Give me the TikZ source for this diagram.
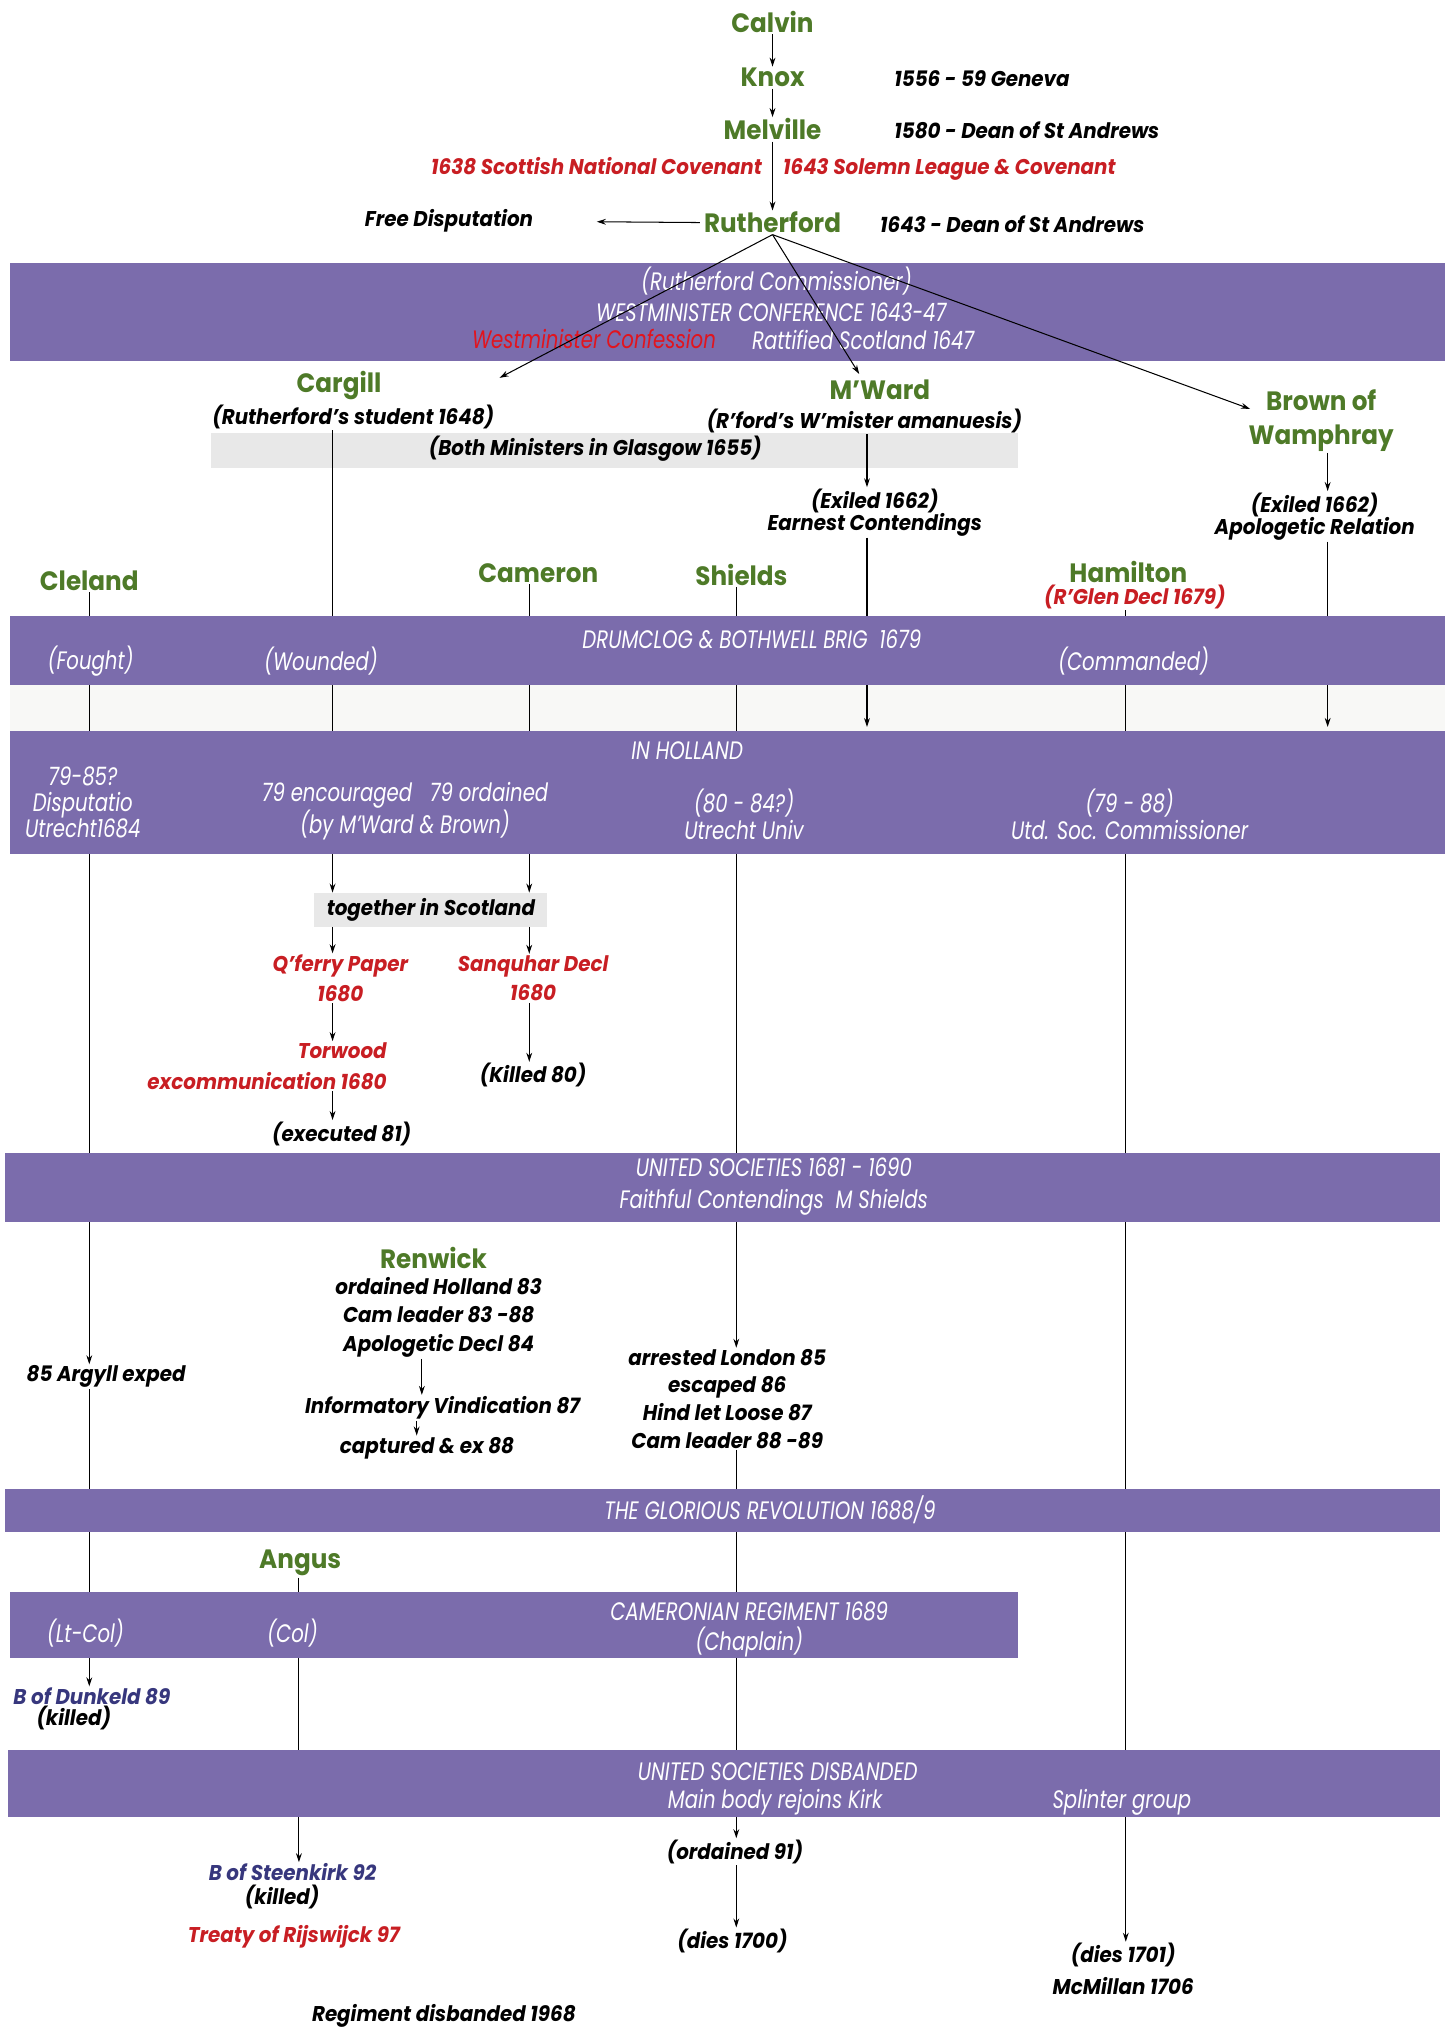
\documentclass[tikz,border=0pt]{standalone}
\usepackage{fontspec}
\setmainfont{Poppins}[FakeStretch=0.93]
\newfontfamily\bandfont{Poppins}[FakeStretch=0.78]
\usetikzlibrary{arrows.meta,calc}
\definecolor{gname}{RGB}{78,122,40}
\definecolor{rtxt}{RGB}{200,30,35}
\definecolor{rbright}{RGB}{225,20,30}
\definecolor{btxt}{RGB}{55,55,125}
\definecolor{bandc}{RGB}{123,108,172}
\definecolor{lgray}{RGB}{232,232,232}
\definecolor{strip}{RGB}{248,248,246}
\pgfdeclarelayer{bg}\pgfdeclarelayer{fg}\pgfsetlayers{bg,main,fg}
\newcommand\lbsz[2]{\fontsize{#1}{#2}\selectfont\bfseries\itshape}
\tikzset{
 nm/.style={text=gname, font=\fontsize{20.5}{26}\selectfont\bfseries, inner sep=1pt, align=center},
 lb/.style={text=black, font=\lbsz{16.5}{20}, inner sep=1pt, align=center},
 rd/.style={lb, text=rtxt},
 bl/.style={lb, text=btxt},
 wt/.style={text=white, font=\bandfont\fontsize{19.5}{22}\selectfont\itshape, inner sep=1pt, align=center},
 wr/.style={wt, text=rbright},
 bandbox/.style={fill=bandc, draw=none, inner sep=0pt},
 graybox/.style={fill=lgray, draw=none, inner sep=0pt},
 arr/.style={-{Stealth[length=7pt,width=4.5pt]}, line width=0.8pt},
 ln/.style={line width=0.8pt}
}
\begin{document}
\begin{tikzpicture}[x=1pt,y=-1pt]
\useasboundingbox (0,0) rectangle (1121,1568);
% column x coordinates
\coordinate (xcl) at (69,0);
\coordinate (xcg) at (257,0);
\coordinate (xcm) at (409,0);
\coordinate (xsh) at (569,0);
\coordinate (xmw) at (670,0);
\coordinate (xha) at (870,0);
\coordinate (xbr) at (1026,0);
\coordinate (xan) at (231,0);
\coordinate (xrw) at (326,0);
\coordinate (xrw2) at (322,0);
\coordinate (cgarr) at (386,292);
\coordinate (mwarr) at (664,289);
\coordinate (brarr) at (966,316);

% background gray boxes
\begin{pgfonlayer}{bg}
\node[graybox, minimum width=624pt, minimum height=27pt] (glas) at (475,348.5) {};
\node[graybox, minimum width=180pt, minimum height=26pt] (tog) at (333,703) {};
\node[fill=strip, inner sep=0pt, minimum width=1109pt, minimum height=36pt] (stripbox) at (562.5,547) {};
\end{pgfonlayer}

% purple bands
\begin{pgfonlayer}{fg}
\node[bandbox, minimum width=1109pt, minimum height=76pt] (west) at (562.5,241) {};
\node[bandbox, minimum width=1109pt, minimum height=53pt] (drum) at (562.5,502.5) {};
\node[bandbox, minimum width=1109pt, minimum height=95pt] (holl) at (562.5,612.5) {};
\node[bandbox, minimum width=1109pt, minimum height=53pt] (unis) at (558.5,917.5) {};
\node[bandbox, minimum width=1109pt, minimum height=33pt] (glor) at (558.5,1167.5) {};
\node[bandbox, minimum width=779pt, minimum height=51pt] (camr) at (397.5,1255.5) {};
\node[bandbox, minimum width=1107pt, minimum height=52pt] (disb) at (559.5,1378) {};
% band texts
\node[wt] (comm) at (600,217) {(Rutherford Commissioner)};
\node[wt] (wconf) at (596,241) {WESTMINISTER CONFERENCE 1643-47};
\node[wr] (wconfess) at (459,262) {Westminister Confession};
\node[wt] (ratt) at (667,263) {Rattified Scotland 1647};
\node[wt] (drumt) at (581,494) {DRUMCLOG \& BOTHWELL BRIG\ \ 1679};
\node[wt] (fought) at (70,511) {(Fought)};
\node[wt] (wounded) at (248,511) {(Wounded)};
\node[wt] (commanded) at (876,511) {(Commanded)};
\node[wt] (hollt) at (531,580) {IN HOLLAND};
\node[wt, font=\bandfont\fontsize{19.5}{20}\selectfont\itshape] (disp) at (64,620) {79-85?\\Disputatio\\Utrecht1684};
\node[wt, font=\bandfont\fontsize{19.5}{21}\selectfont\itshape] (enc) at (313,627) {79 encouraged\ \ \ 79 ordained\\(by M’Ward \& Brown)};
\node[wt, font=\bandfont\fontsize{19.5}{21}\selectfont\itshape] (utr) at (575,629) {(80 - 84?)\\Utrecht Univ};
\node[wt, font=\bandfont\fontsize{19.5}{21}\selectfont\itshape] (utd) at (873,629) {(79 - 88)\\Utd. Soc. Commissioner};
\node[wt, font=\bandfont\fontsize{19.5}{25}\selectfont\itshape] (unist) at (598,917) {UNITED SOCIETIES 1681 - 1690\\Faithful Contendings\ \ M Shields};
\node[wt] (glort) at (595,1167) {THE GLORIOUS REVOLUTION 1688/9};
\node[wt, font=\bandfont\fontsize{19.5}{23}\selectfont\itshape] (camrt) at (579,1259) {CAMERONIAN REGIMENT 1689\\(Chaplain)};
\node[wt] (ltcol) at (66,1262) {(Lt-Col)};
\node[wt] (col) at (226,1262) {(Col)};
\node[wt] (disbt) at (601,1369) {UNITED SOCIETIES DISBANDED};
\node[wt] (mainbody) at (599,1393) {Main body rejoins Kirk};
\node[wt] (splinter) at (867,1393) {Splinter group};
\end{pgfonlayer}

% top chain
\node[nm] (calvin) at (597,17) {Calvin};
\node[nm] (knox) at (597,60) {Knox};
\node[lb, anchor=west] (geneva) at (690,61) {1556 - 59 Geneva};
\node[nm] (melville) at (597,100) {Melville};
\node[lb, anchor=west] (dean1) at (690,101) {1580 - Dean of St Andrews};
\node[rd, anchor=base east] (natcov) at (590,135) {1638 Scottish National Covenant};
\node[rd, anchor=base west] (solemn) at (604,135) {1643 Solemn League \& Covenant};
\node[nm] (ruth) at (597,172) {Rutherford};
\node[lb, anchor=west] (dean2) at (679,173) {1643 - Dean of St Andrews};
\node[lb] (free) at (347,171) {Free Disputation};

% second tier
\node[nm] (cargill) at (262,298) {Cargill};
\node[lb] (cgsub) at (273,322) {(Rutherford’s student 1648)};
\node[nm] (mward) at (680,301) {M’Ward};
\node[lb] (mwsub) at (668,325) {(R’ford’s W’mister amanuesis)};
\node[nm] (brown) at (1021,325) {Brown of\\Wamphray};
\node[lb] (glastxt) at (460,347) {(Both Ministers in Glasgow 1655)};
\node[lb, font=\lbsz{16.5}{17}] (exil1) at (676,396) {(Exiled 1662)\\Earnest Contendings};
\node[lb, font=\lbsz{16.5}{17}] (exil2) at (1016,399) {(Exiled 1662)\\Apologetic Relation};

% names row
\node[nm] (cleland) at (69,449) {Cleland};
\node[nm] (cameron) at (416,443) {Cameron};
\node[nm] (shields) at (573,444) {Shields};
\node[nm] (hamilton) at (872,442) {Hamilton};
\node[rd] (rglen) at (877,461) {(R’Glen Decl 1679)};

% Scotland 1680
\node[lb] (togtxt) at (333,703) {together in Scotland};
\node[rd, font=\lbsz{16.5}{23}] (qferry) at (263,756) {Q’ferry Paper\\1680};
\node[rd, font=\lbsz{16.5}{23}] (sanq) at (412,756) {Sanquhar Decl\\1680};
\node[rd, align=right, anchor=east, font=\lbsz{16.5}{24}] (torwood) at (300,824) {Torwood\\excommunication 1680};
\node[lb] (killed80) at (412,831) {(Killed 80)};
\node[lb] (exec81) at (264,876) {(executed 81)};

% Renwick & co
\node[nm] (renwick) at (335,972) {Renwick};
\node[lb, font=\lbsz{16.5}{22}] (renw1) at (339,1018) {ordained Holland 83\\Cam leader 83 -88\\Apologetic Decl 84};
\node[lb] (infv) at (342,1088) {Informatory Vindication 87};
\node[lb] (capt) at (330,1119) {captured \& ex 88};
\node[lb] (argyll) at (82,1064) {85 Argyll exped};
\node[lb, font=\lbsz{16.5}{21.3}] (arrest) at (562,1081) {arrested London 85\\escaped 86\\Hind let Loose 87\\Cam leader 88 -89};

% after revolution
\node[nm] (angus) at (232,1208) {Angus};
\node[bl] (dunkeld) at (71,1311) {B of Dunkeld 89};
\node[lb] (killedA) at (57,1328) {(killed)};
\node[bl] (steen) at (226,1447) {B of Steenkirk 92};
\node[lb] (killedB) at (218,1466) {(killed)};
\node[rd] (treaty) at (227,1497) {Treaty of Rijswijck 97};
\node[lb] (ord91) at (568,1431) {(ordained 91)};
\node[lb] (dies1700) at (566,1500) {(dies 1700)};
\node[lb] (dies1701) at (868,1511) {(dies 1701)};
\node[lb] (mcm) at (868,1535) {McMillan 1706};
\node[lb] (regdis) at (343,1558) {Regiment disbanded 1968};

% connectors
\draw[arr] (calvin.south) -- (knox.north);
\draw[arr] (knox.south) -- (melville.north);
\draw[arr] (melville.south) -- (ruth.north);
\draw[arr, shorten <=2pt, shorten >=48pt] (ruth.west) -- (free.east);
\begin{pgfonlayer}{fg}
\draw[arr] (ruth.south) -- (cgarr);
\draw[arr] (ruth.south) -- (mwarr);
\draw[arr] (ruth.south) -- (brarr);
\end{pgfonlayer}
\draw[arr] (cgsub.south -| xcg) -- (tog.north -| xcg);
\draw[arr] (cameron.south -| xcm) -- (tog.north -| xcm);
\draw[arr] (mwsub.south -| xmw) -- (exil1.north -| xmw);
\draw[arr, shorten >=3pt] (exil1.south -| xmw) -- (holl.north -| xmw);
\draw[arr] (brown.south -| xbr) -- (exil2.north -| xbr);
\draw[arr, shorten >=3pt] (exil2.south -| xbr) -- (holl.north -| xbr);
\draw[arr] (cleland.south -| xcl) -- (argyll.north -| xcl);
\draw[arr] (argyll.south -| xcl) -- (dunkeld.north -| xcl);
\draw[arr] (shields.south -| xsh) -- (arrest.north -| xsh);
\draw[arr] (arrest.south -| xsh) -- (ord91.north -| xsh);
\draw[arr] (ord91.south -| xsh) -- (dies1700.north -| xsh);
\draw[arr] (rglen.south -| xha) -- (dies1701.north -| xha);
\draw[arr] (tog.south -| xcg) -- (qferry.north -| xcg);
\draw[arr] (tog.south -| xcm) -- (sanq.north -| xcm);
\draw[arr] (qferry.south -| xcg) -- (torwood.north -| xcg);
\draw[arr] (sanq.south -| xcm) -- (killed80.north -| xcm);
\draw[arr] (torwood.south -| xcg) -- (exec81.north -| xcg);
\draw[arr] (renw1.south -| xrw) -- (infv.north -| xrw);
\draw[arr] (infv.south -| xrw2) -- (capt.north -| xrw2);
\draw[arr] (angus.south -| xan) -- (steen.north -| xan);
\end{tikzpicture}
\end{document}
